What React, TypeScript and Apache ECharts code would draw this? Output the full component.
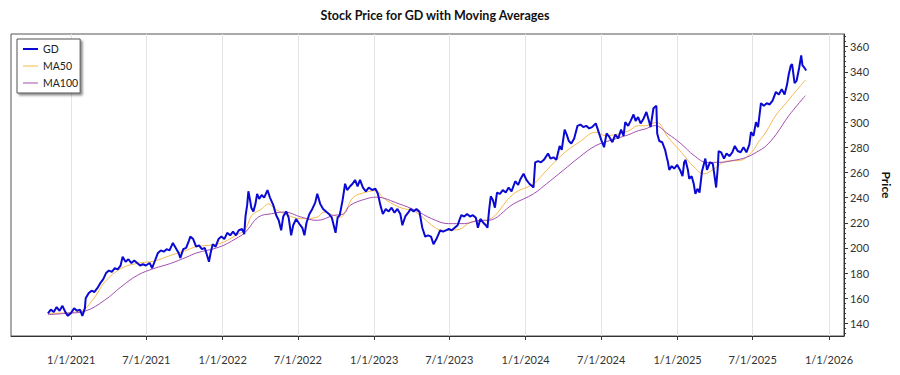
import React, { useEffect, useRef } from "react";
import * as echarts from "echarts";

const FONT = "Lato, 'Open Sans', sans-serif";

const gdDates = [
  "2020-11-06","2020-11-13","2020-11-20","2020-11-27","2020-12-04","2020-12-11","2020-12-18","2020-12-24","2020-12-31",
  "2021-01-08","2021-01-15","2021-01-22","2021-01-28","2021-02-03","2021-02-05","2021-02-12","2021-02-19","2021-02-26",
  "2021-03-05","2021-03-12","2021-03-19","2021-03-26","2021-04-02","2021-04-09","2021-04-16","2021-04-23","2021-04-30",
  "2021-05-05","2021-05-12","2021-05-19","2021-05-26","2021-06-02","2021-06-09","2021-06-16","2021-06-23","2021-06-30",
  "2021-07-09","2021-07-15","2021-07-22","2021-07-29","2021-08-05","2021-08-12","2021-08-19","2021-08-26","2021-09-03",
  "2021-09-10","2021-09-17","2021-09-21","2021-09-28","2021-10-05","2021-10-12","2021-10-15","2021-10-22","2021-10-29",
  "2021-11-05","2021-11-12","2021-11-19","2021-11-29","2021-12-03","2021-12-08","2021-12-15","2021-12-22","2021-12-29",
  "2022-01-05","2022-01-12","2022-01-19","2022-01-26","2022-02-02","2022-02-09","2022-02-17","2022-02-22","2022-02-25",
  "2022-03-01","2022-03-04","2022-03-08","2022-03-11","2022-03-16","2022-03-21","2022-03-25","2022-03-30","2022-04-05",
  "2022-04-11","2022-04-19","2022-04-25","2022-05-03","2022-05-10","2022-05-16","2022-05-22","2022-05-27","2022-06-03",
  "2022-06-09","2022-06-15","2022-06-20","2022-06-27","2022-07-05","2022-07-12","2022-07-17","2022-07-22","2022-07-29",
  "2022-08-05","2022-08-12","2022-08-17","2022-08-24","2022-08-31","2022-09-07","2022-09-14","2022-09-21","2022-09-30",
  "2022-10-05","2022-10-10","2022-10-17","2022-10-23","2022-10-28","2022-11-04","2022-11-10","2022-11-16","2022-11-22",
  "2022-11-28","2022-12-05","2022-12-12","2022-12-19","2022-12-27","2023-01-04","2023-01-10","2023-01-16","2023-01-22",
  "2023-01-29","2023-02-05","2023-02-12","2023-02-19","2023-02-26","2023-03-05","2023-03-10","2023-03-17","2023-03-24",
  "2023-03-30","2023-04-06","2023-04-13","2023-04-20","2023-04-27","2023-05-04","2023-05-11","2023-05-18","2023-05-24",
  "2023-05-31","2023-06-09","2023-06-16","2023-06-23","2023-06-30","2023-07-07","2023-07-14","2023-07-21","2023-07-30",
  "2023-08-06","2023-08-13","2023-08-20","2023-08-27","2023-09-03","2023-09-08","2023-09-14","2023-09-21","2023-09-27",
  "2023-10-01","2023-10-05","2023-10-09","2023-10-14","2023-10-19","2023-10-24","2023-10-31","2023-11-07","2023-11-14",
  "2023-11-21","2023-11-28","2023-12-07","2023-12-14","2023-12-20","2023-12-27","2024-01-03","2024-01-10","2024-01-17",
  "2024-01-20","2024-01-24","2024-01-31","2024-02-07","2024-02-14","2024-02-24","2024-03-01","2024-03-08","2024-03-15",
  "2024-03-23","2024-03-28","2024-04-04","2024-04-09","2024-04-14","2024-04-20","2024-04-27","2024-05-05","2024-05-12",
  "2024-05-19","2024-05-26","2024-06-02","2024-06-09","2024-06-18","2024-06-25","2024-07-02","2024-07-08","2024-07-14",
  "2024-07-21","2024-07-28","2024-08-04","2024-08-11","2024-08-18","2024-08-24","2024-08-28","2024-09-04","2024-09-10",
  "2024-09-17","2024-09-22","2024-09-28","2024-10-04","2024-10-10","2024-10-18","2024-10-24","2024-10-28","2024-11-04",
  "2024-11-11","2024-11-13","2024-11-18","2024-11-25","2024-12-02","2024-12-06","2024-12-09","2024-12-12","2024-12-18",
  "2024-12-24","2024-12-31","2025-01-07","2025-01-13","2025-01-17","2025-01-20","2025-01-26","2025-01-29","2025-02-04",
  "2025-02-09","2025-02-13","2025-02-18","2025-02-23","2025-03-01","2025-03-09","2025-03-13","2025-03-20","2025-03-27",
  "2025-04-04","2025-04-08","2025-04-10","2025-04-16","2025-04-23","2025-04-29","2025-05-06","2025-05-13","2025-05-19",
  "2025-05-26","2025-06-02","2025-06-09","2025-06-16","2025-06-23","2025-06-27","2025-07-03","2025-07-09","2025-07-14",
  "2025-07-21","2025-07-28","2025-08-04","2025-08-11","2025-08-18","2025-08-26","2025-09-02","2025-09-09","2025-09-16",
  "2025-09-22","2025-09-26","2025-10-01","2025-10-04","2025-10-10","2025-10-15","2025-10-21","2025-10-26","2025-10-29",
  "2025-11-03","2025-11-07"
];

const gdPrices = [
  148,151,149,153,150,154,149,146,148,
  152,150,151,146,152,160,164,166,165,
  168,172,175,180,182,181,184,183,186,
  193,189,191,188,190,188,186,187,186,
  188,184,190,196,198,197,199,198,204,
  200,196,192,199,200,206,209,207,201,
  202,199,200,189,196,203,201,207,209,
  207,212,210,213,210,214,215,211,225,
  234,245,238,232,229,235,243,239,242,
  240,246,240,234,226,222,214,225,229,
  224,210,218,223,219,216,210,220,227,
  231,236,243,235,231,229,227,224,212,
  224,226,238,251,246,249,251,254,249,
  254,248,245,248,246,247,243,234,227,
  231,229,232,228,231,227,218,225,228,
  231,229,231,229,216,209,210,209,203,
  207,214,213,214,215,214,216,218,226,
  225,227,225,226,224,216,223,220,218,
  216,230,241,238,232,244,243,246,244,
  248,245,253,250,255,259,254,251,249,
  248,268,269,268,270,275,271,272,270,
  281,278,294,290,285,283,287,297,298,
  296,297,295,296,299,292,285,280,291,
  288,284,290,287,294,289,300,297,301,
  306,301,304,299,302,308,301,296,311,
  313,291,285,284,278,272,268,262,265,
  263,266,262,257,268,270,262,255,257,
  251,243,247,244,261,271,262,268,267,
  248,264,277,276,271,275,273,276,281,
  277,276,280,276,282,292,289,300,296,
  315,313,315,314,317,324,322,326,322,
  330,338,345,346,331,333,343,353,345,
  343,341
];

const ma50Dates = [
  "2020-11-06","2020-12-20","2021-01-28","2021-02-27","2021-03-23","2021-05-01","2021-06-10","2021-07-19","2021-08-28",
  "2021-10-07","2021-10-30","2021-12-24","2022-02-02","2022-02-25","2022-03-12","2022-04-05","2022-04-21","2022-05-07",
  "2022-05-30","2022-07-09","2022-08-17","2022-09-02","2022-09-25","2022-10-12","2022-10-25","2022-11-12","2022-12-13",
  "2023-01-06","2023-01-22","2023-03-02","2023-04-11","2023-05-20","2023-06-13","2023-07-22","2023-08-23","2023-10-01",
  "2023-12-03","2024-01-20","2024-02-20","2024-03-31","2024-05-09","2024-06-18","2024-07-12","2024-08-12","2024-09-05",
  "2024-09-29","2024-10-15","2024-11-11","2024-12-09","2025-01-10","2025-02-10","2025-03-06","2025-03-30","2025-04-29",
  "2025-05-31","2025-07-01","2025-07-15","2025-08-02","2025-08-26","2025-09-22","2025-10-04","2025-11-05"
];
const ma50Values = [
  148,148.5,150.6,161,173,183.6,187.8,189.5,194,
  198.3,201,203.4,210,215.3,225.8,231,235,231,
  227.2,223.2,224.5,228.5,226,224.5,229.8,240.3,244.3,
  245.6,240,232.4,228.5,218,214,214.5,220.6,222,
  243,251,261.5,274.7,284,291.9,289.2,290.6,293,
  297.2,297,299.8,287.9,276,264.1,258.9,262.8,269,
  269.5,277,284,292,305.5,316,321,333.4
];

const ma100Dates = [
  "2020-11-06","2020-12-20","2021-02-04","2021-03-23","2021-05-01","2021-06-10","2021-07-19","2021-08-28","2021-10-07",
  "2021-10-30","2021-12-24","2022-02-02","2022-02-25","2022-03-28","2022-04-29","2022-05-30","2022-07-09","2022-08-17",
  "2022-09-25","2022-10-19","2022-11-04","2022-12-13","2023-01-06","2023-03-02","2023-04-11","2023-05-20","2023-06-29",
  "2023-08-06","2023-09-15","2023-10-01","2023-12-03","2024-01-20","2024-02-20","2024-03-31","2024-05-09","2024-06-18",
  "2024-07-27","2024-09-05","2024-09-29","2024-10-15","2024-11-07","2024-12-09","2025-01-10","2025-02-10","2025-03-13",
  "2025-04-13","2025-05-15","2025-06-16","2025-07-17","2025-08-02","2025-08-26","2025-09-26","2025-11-05"
];
const ma100Values = [
  147,148,149.8,158.5,169,178.3,183.6,187.6,192.8,
  196,200.7,207.4,212.6,224.5,227.2,228.5,224.5,221.9,
  225.8,227,233.8,239,240.3,235,229.8,223.2,219.3,
  219.3,222,221.9,235,243,250.9,261.5,272,281.3,
  285.8,290,293.2,294.5,297.2,290.6,282.6,273.4,268,
  268,269.5,272,277.4,281,290,305,321
];

const xTickDates = [
  "2021-01-01","2021-07-01","2022-01-01","2022-07-01","2023-01-01","2023-07-01",
  "2024-01-01","2024-07-01","2025-01-01","2025-07-01","2026-01-01"
];
const yTicks = [140,160,180,200,220,240,260,280,300,320,340,360];
const yMinorTicks = [132,136,144,148,152,156,164,168,172,176,184,188,192,196,204,208,212,216,224,228,232,236,244,248,252,256,264,268,272,276,284,288,292,296,304,308,312,316,324,328,332,336,344,348,352,356,364,368];

const GD_COLOR = "#0a0ad2";
const MA50_COLOR = "#f6b94e";
const MA100_COLOR = "#a24fb0";

const ts = (d: string) => Date.parse(d + "T00:00:00Z");
const pair = (dates: string[], vals: number[]) => dates.map((d, i) => [ts(d), vals[i]]);

export default function App() {
  const ref = useRef<HTMLDivElement>(null);
  useEffect(() => {
    const chart = echarts.init(ref.current!, null, { renderer: "svg" });
    const xTicks = xTickDates.map(ts);
    chart.setOption({
      animation: false,
      backgroundColor: "#ffffff",
      textStyle: { fontFamily: FONT },
      graphic: [
        {
          type: "text",
          x: 435,
          y: 15,
          style: {
            text: "Stock Price for GD with Moving Averages",
            textAlign: "center",
            textVerticalAlign: "middle",
            font: `bold 12.5px ${FONT}`,
            fill: "#111",
          },
        },
      ],
      grid: {
        left: 11,
        right: 41,
        top: 34,
        bottom: 39,
        show: true,
        borderColor: "#555",
        borderWidth: 1,
        containLabel: false,
      },
      legend: {
        orient: "vertical",
        left: 17,
        top: 39,
        backgroundColor: "#fff",
        borderColor: "#555",
        borderWidth: 1,
        borderRadius: 0,
        shadowColor: "rgba(0,0,0,0.45)",
        shadowBlur: 2,
        shadowOffsetX: 2,
        shadowOffsetY: 2,
        padding: [4, 2, 4, 6],
        itemGap: 5,
        itemWidth: 15,
        itemHeight: 12,
        textStyle: { fontSize: 10.5, color: "#222", fontFamily: FONT },
        data: [
          { name: "GD", icon: "path://M0,0 M0,5h15v2h-15z M15,12", itemStyle: { color: GD_COLOR } },
          { name: "MA50", icon: "path://M0,0 M0,5.5h15v1h-15z M15,12", itemStyle: { color: MA50_COLOR } },
          { name: "MA100", icon: "path://M0,0 M0,5.5h15v1h-15z M15,12", itemStyle: { color: MA100_COLOR } },
        ],
      },
      xAxis: {
        type: "value",
        min: ts("2020-08-09"),
        max: ts("2026-02-06"),
        axisLine: { show: true, lineStyle: { color: "#333", width: 1 } },
        axisTick: { show: true, customValues: xTicks, length: 4, lineStyle: { color: "#333" } },
        axisLabel: {
          customValues: xTicks,
          margin: 18,
          fontSize: 11,
          color: "#333",
          fontFamily: FONT,
          formatter: (v: number) => {
            const d = new Date(v);
            return `${d.getUTCMonth() + 1}/${d.getUTCDate()}/${d.getUTCFullYear()}`;
          },
        },
        splitLine: { show: true, lineStyle: { color: "#e4e4e4", width: 1 } },
      },
      yAxis: [
        {
          type: "value",
          position: "right",
          min: 130,
          max: 370,
          name: "Price",
          nameLocation: "middle",
          nameRotate: -90,
          nameGap: 29,
          nameTextStyle: { fontSize: 12, fontWeight: "bold", color: "#111", fontFamily: FONT },
          axisLine: { show: true, lineStyle: { color: "#333", width: 1 } },
          axisTick: { show: true, customValues: yTicks, length: 4, lineStyle: { color: "#333" } },
          axisLabel: { customValues: yTicks, margin: 6, fontSize: 11, color: "#333", fontFamily: FONT },
          splitLine: { show: false },
        },
        {
          type: "value",
          position: "right",
          min: 130,
          max: 370,
          axisLine: { show: false },
          axisTick: { show: true, customValues: yMinorTicks, length: 2, lineStyle: { color: "#333" } },
          axisLabel: { show: false },
          splitLine: { show: false },
        },
      ],
      series: [
        {
          name: "GD",
          type: "line",
          symbol: "none",
          data: pair(gdDates, gdPrices),
          lineStyle: { color: GD_COLOR, width: 2 },
          itemStyle: { color: GD_COLOR },
          z: 5,
        },
        {
          name: "MA50",
          type: "line",
          symbol: "none",
          smooth: 0.4,
          data: pair(ma50Dates, ma50Values),
          lineStyle: { color: MA50_COLOR, width: 1 },
          itemStyle: { color: MA50_COLOR },
          z: 3,
        },
        {
          name: "MA100",
          type: "line",
          symbol: "none",
          smooth: 0.4,
          data: pair(ma100Dates, ma100Values),
          lineStyle: { color: MA100_COLOR, width: 1 },
          itemStyle: { color: MA100_COLOR },
          z: 4,
        },
      ],
    });
    return () => chart.dispose();
  }, []);
  return <div ref={ref} style={{ position: "fixed", left: 0, top: 0, width: 900, height: 375 }} />;
}
